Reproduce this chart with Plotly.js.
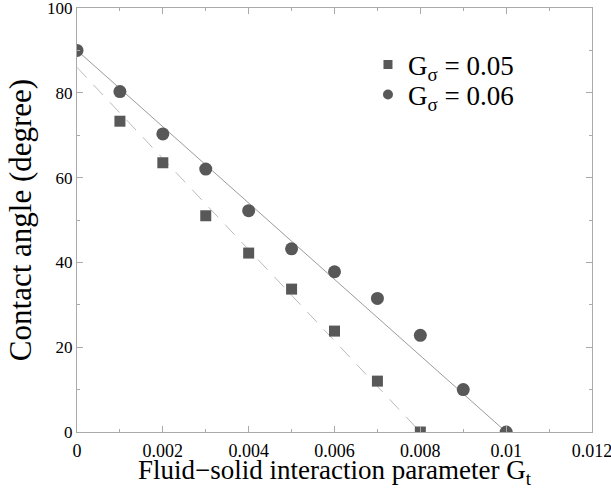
<!DOCTYPE html>
<html>
<head>
<meta charset="utf-8">
<script src="https://cdn.plot.ly/plotly-3.0.1.min.js"></script>
<style>html,body{margin:0;padding:0;background:#fff;}#chart{width:611px;height:489px;}</style>
</head>
<body>
<div id="chart"></div>
<script>
// Data
const gtA = [0.001, 0.002, 0.003, 0.004, 0.005, 0.006, 0.007, 0.008];
const angleA = [73.3, 63.5, 51.0, 42.2, 33.7, 23.8, 12.0, 0.0];
const gtB = [0, 0.001, 0.002, 0.003, 0.004, 0.005, 0.006, 0.007, 0.008, 0.009, 0.010];
const angleB = [90.0, 80.3, 70.3, 62.0, 52.2, 43.2, 37.8, 31.5, 22.8, 10.0, 0.0];
// fitted lines (endpoints)
const fitAx = [0, 0.008];
const fitAy = [86, 0];
const fitBx = [0, 0.010];
const fitBy = [90, 0];
const labelA = 'G<sub>σ</sub> = 0.05';
const labelB = 'G<sub>σ</sub> = 0.06';

const serif = 'Liberation Serif, Times New Roman, serif';
const markColor = '#585858';

const traces = [
  {x: fitAx, y: fitAy, mode: 'lines', line: {color: '#bbbbbb', width: 1, dash: '14px,10px'}, showlegend: false, hoverinfo: 'skip'},
  {x: fitBx, y: fitBy, mode: 'lines', line: {color: '#9a9a9a', width: 1}, showlegend: false, hoverinfo: 'skip'},
  {x: gtA, y: angleA, mode: 'markers', marker: {symbol: 'square', size: 11, color: markColor}, showlegend: false},
  {x: gtB, y: angleB, mode: 'markers', marker: {symbol: 'circle', size: 13, color: markColor}, showlegend: false},
  {x: [null], y: [null], mode: 'markers', name: labelA, legend: 'legend', marker: {symbol: 'square', size: 9, color: markColor}},
  {x: [null], y: [null], mode: 'markers', name: labelB, legend: 'legend2', marker: {symbol: 'circle', size: 10, color: markColor}}
];

const axisCommon = {
  showgrid: false, zeroline: false, showline: true, linecolor: '#aaaaaa', linewidth: 1,
  mirror: 'ticks', ticks: 'inside', tickcolor: '#aaaaaa', ticklen: 6, tickwidth: 1,
  ticklabeloverflow: 'allow'
};

const legendCommon = {
  xanchor: 'left', yanchor: 'middle',
  bgcolor: 'rgba(0,0,0,0)', borderwidth: 0,
  font: {family: serif, size: 27, color: '#000'},
  itemwidth: 30
};

const layout = {
  width: 611, height: 489,
  margin: {l: 77, r: 19, t: 8, b: 57},
  paper_bgcolor: '#fff', plot_bgcolor: '#fff',
  xaxis: Object.assign({}, axisCommon, {
    range: [0, 0.012], dtick: 0.002, tick0: 0,
    tickfont: {family: serif, size: 18, color: '#000'},
    ticklabelstandoff: 2,
    minor: {dtick: 0.001, ticks: 'inside', ticklen: 3, tickcolor: '#aaaaaa'},
    title: {text: 'Fluid−solid interaction parameter G<sub>t</sub>', font: {family: serif, size: 27, color: '#000'}, standoff: 3}
  }),
  yaxis: Object.assign({}, axisCommon, {
    range: [0, 100], dtick: 20, tick0: 0,
    tickfont: {family: serif, size: 17, color: '#000'},
    minor: {dtick: 10, ticks: 'inside', ticklen: 3, tickcolor: '#aaaaaa'},
    title: {text: 'Contact angle (degree)\u00a0\u00a0\u00a0\u00a0', font: {family: serif, size: 31, color: '#000'}, standoff: 6}
  }),
  legend: Object.assign({}, legendCommon, {x: 0.565, y: 0.8656}),
  legend2: Object.assign({}, legendCommon, {x: 0.565, y: 0.7948}),
  showlegend: true
};

Plotly.newPlot('chart', traces, layout, {staticPlot: true, displayModeBar: false});
</script>
</body>
</html>
